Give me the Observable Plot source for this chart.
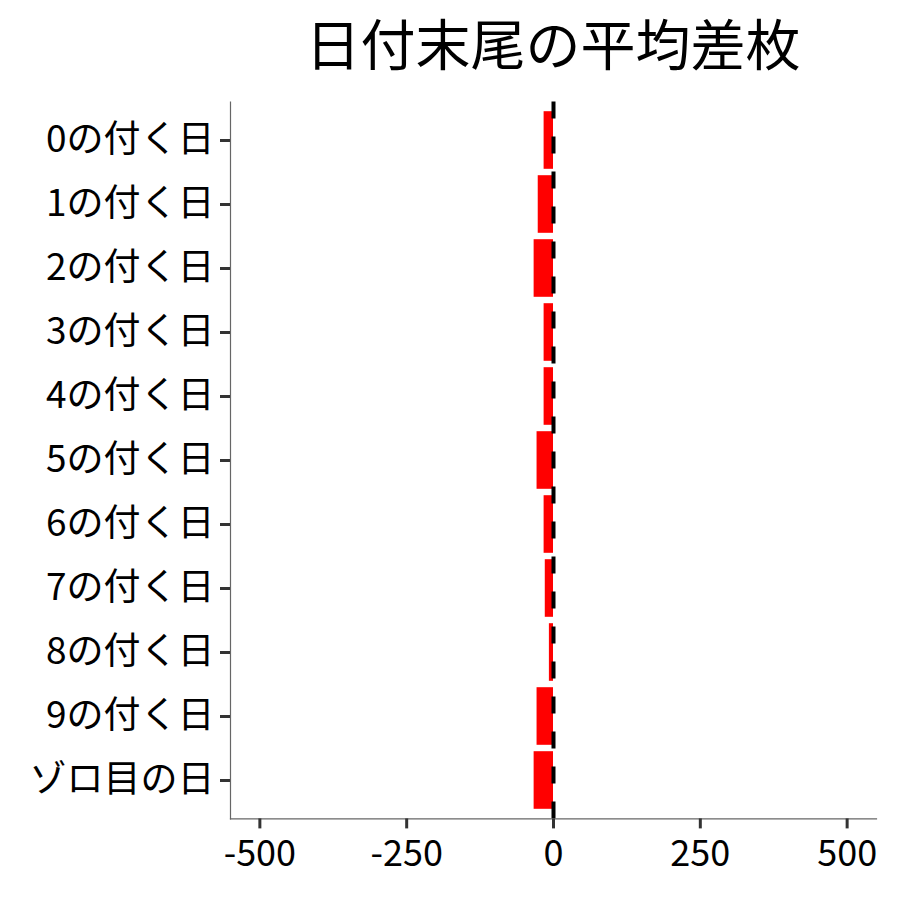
<!DOCTYPE html>
<html>
<head>
<meta charset="utf-8">
<script src="https://cdn.jsdelivr.net/npm/d3@7"></script>
<script src="https://cdn.jsdelivr.net/npm/@observablehq/plot@0.6"></script>
<style>
  body { margin: 0; background: #fff; font-family: "Noto Sans CJK JP", sans-serif; }
  #wrap { position: relative; width: 900px; height: 900px; }
  #title { position: absolute; left: 230px; width: 646px; top: 1px; text-align: center;
           font-size: 55px; line-height: 80px; color: #000; }
  #chart { position: absolute; left: 0; top: 95px; }
</style>
</head>
<body>
<div id="wrap">
  <div id="title">日付末尾の平均差枚</div>
  <div id="chart"></div>
</div>
<script>
const categories = ["0の付く日","1の付く日","2の付く日","3の付く日","4の付く日","5の付く日","6の付く日","7の付く日","8の付く日","9の付く日","ゾロ目の日"];
const values = [-16, -26, -33, -16, -16, -28, -16, -14, -7, -28, -33];
const xTicks = [-500, -250, 0, 250, 500];

const data = categories.map((c, i) => ({cat: c, val: values[i]}));

const chart = Plot.plot({
  width: 900,
  height: 805,
  marginLeft: 230,
  marginRight: 24,
  marginTop: 6.6,
  marginBottom: 81.6,
  style: {fontFamily: '"Noto Sans CJK JP", sans-serif', color: "#000", background: "#fff"},
  x: {domain: [-550, 550], ticks: xTicks, label: null},
  y: {domain: categories, paddingInner: 0.1, paddingOuter: 0.15, round: false, label: null},
  marks: [
    Plot.barX(data, {x: "val", y: "cat", fill: "red"}),
    Plot.ruleX([0], {stroke: "black", strokeWidth: 4, strokeDasharray: "17,18"}),
    Plot.frame({anchor: "left", stroke: "#666", strokeWidth: 1.2}),
    Plot.frame({anchor: "bottom", stroke: "#666", strokeWidth: 1.2}),
    Plot.axisY({tickSize: 10, tickPadding: 6, stroke: "#333", strokeWidth: 3, fontSize: 37, fill: "#000", label: null}),
    Plot.axisX({ticks: xTicks, tickSize: 10, tickPadding: 12, stroke: "#333", strokeWidth: 3, fontSize: 36, fill: "#000", label: null, tickFormat: d => String(d)})
  ]
});
document.getElementById("chart").appendChild(chart);
</script>
</body>
</html>
